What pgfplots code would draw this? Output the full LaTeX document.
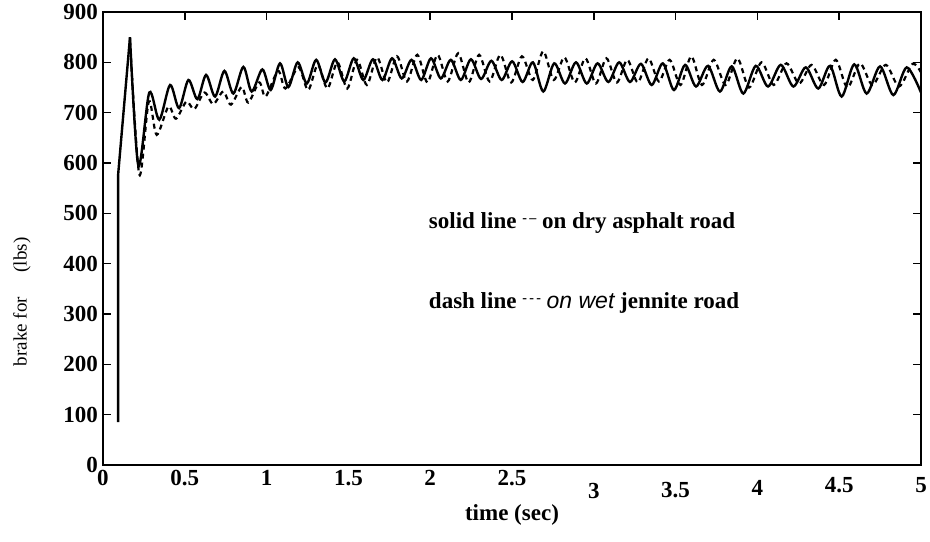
\documentclass[border=0pt]{standalone}
\usepackage{fontspec}
\setmainfont{Liberation Serif}
\setsansfont{Liberation Sans}
\usepackage{pgfplots}
\pgfplotsset{compat=1.18}
\newcommand{\dn}[2]{\raisebox{-#1}[\height][\depth]{#2}}
\begin{document}
\begin{tikzpicture}
\useasboundingbox (-51.5pt,-38pt) rectangle (413.5pt,232.5pt);
\begin{axis}[
  scale only axis, width=409pt, height=226.5pt,
  at={(0,0)}, anchor=south west,
  xmin=0, xmax=5, ymin=0, ymax=900,
  axis line style={line width=1pt},
  xtick={0,0.5,1,1.5,2,2.5,3,3.5,4,4.5,5},
  xticklabels={0,0.5,1,1.5,2,2.5,\dn{6.5pt}{3},\dn{6pt}{3.5},\dn{5pt}{4},\dn{3.5pt}{4.5},\dn{3.5pt}{5}},
  xtick pos=upper, xticklabel pos=lower,
  ytick={0,100,...,900},
  ytick pos=both, yticklabel pos=left,
  tick align=inside,
  major tick length=4pt,
  tick style={line width=0.8pt, black},
  /pgf/number format/assume math mode=true,
  ticklabel style={font=\bfseries\fontsize{11.5}{12}\selectfont},
  yticklabel style={xshift=1pt},
  xticklabel style={yshift=1pt},
  xlabel={time (sec)},
  xlabel style={at={(axis description cs:0.5,-0.11)}, anchor=center, font=\bfseries\fontsize{11.5}{12}\selectfont},
  ylabel={brake for\hspace{1.3em}(lbs)},
  ylabel style={at={(axis description cs:-0.099,0.36)}, anchor=center, font=\fontsize{9.5}{10}\selectfont},
  clip=true,
]
% initial rise (both series)
\addplot[black, line width=1.2pt] coordinates {(0.092,85) (0.092,575) (0.165,850)};
% solid line: dry asphalt road
\addplot[black, line width=1.2pt, smooth] coordinates {
(0.165,850)(0.216,595)(0.283,740)(0.344,686)(0.41,755)(0.465,709)(0.522,765)(0.577,727)(0.630,775)(0.685,732)(0.742,783)(0.797,738)(0.858,791)(0.909,742)(0.974,786)(1.025,745)(1.082,798)(1.133,751)
(1.190,800)(1.246,758)(1.303,805)(1.360,760)(1.418,806)(1.475,762)(1.533,808)(1.591,765)(1.650,806)(1.708,765)(1.767,808)(1.826,768)(1.886,805)(1.945,765)(2.005,808)(2.065,768)(2.126,805)(2.187,765)(2.249,806)(2.311,767)(2.374,803)(2.437,765)(2.501,802)(2.565,761)(2.628,800)(2.691,742)(2.758,798)(2.824,758)(2.891,800)(2.957,758)(3.023,798)(3.089,761)(3.155,800)(3.221,761)(3.288,797)(3.354,755)(3.422,798)(3.490,745)(3.558,795)(3.625,752)(3.698,793)(3.771,742)(3.843,792)(3.914,738)(3.990,793)(4.065,752)(4.143,795)(4.220,752)(4.296,790)(4.372,748)(4.444,793)(4.515,732)(4.592,796)(4.668,738)(4.750,792)(4.831,735)(4.913,790)(5.0,740)
};
% dash line: wet jennite road
\addplot[black, line width=1.1pt, smooth, dash pattern=on 2.5pt off 2pt] coordinates {
(0.165,845)(0.222,577)(0.28,722)(0.328,656)(0.40,712)(0.446,688)(0.51,722)(0.558,707)(0.62,740)(0.674,717)(0.735,742)(0.782,716)(0.848,751)(0.888,720)(0.955,760)(0.994,732)(1.07,783)(1.115,748)
(1.195,790)(1.254,745)(1.313,795)(1.372,748)(1.433,800)(1.493,748)(1.553,805)(1.613,755)(1.675,810)(1.736,760)(1.797,812)(1.858,762)(1.921,815)(1.983,760)(2.045,815)(2.107,762)(2.171,818)(2.235,760)(2.299,815)(2.363,762)(2.429,815)(2.495,760)(2.561,812)(2.627,765)(2.691,822)(2.755,765)(2.820,810)(2.884,760)(2.949,808)(3.013,758)(3.077,808)(3.141,760)(3.205,805)(3.269,760)(3.334,808)(3.398,762)(3.464,805)(3.530,755)(3.596,812)(3.661,755)(3.733,805)(3.806,755)(3.878,808)(3.949,750)(4.025,800)(4.100,755)(4.178,798)(4.255,758)(4.331,795)(4.407,755)(4.479,805)(4.550,750)(4.627,798)(4.703,755)(4.785,795)(4.866,752)(4.948,797)(5.0,780)
};
\node[anchor=west, font=\bfseries\fontsize{11.5}{13}\selectfont, inner sep=0pt] at (axis cs:1.99,481)
  {solid line \raisebox{0.6ex}{\fontsize{7}{7}\selectfont -\,--}\ on dry asphalt road};
\node[anchor=west, font=\bfseries\fontsize{11.5}{13}\selectfont, inner sep=0pt] at (axis cs:1.99,322)
  {dash line \raisebox{0.6ex}{\fontsize{7}{7}\selectfont -\,-\,-}\ {\sffamily\mdseries\itshape on wet} jennite road};
\end{axis}
\end{tikzpicture}
\end{document}
